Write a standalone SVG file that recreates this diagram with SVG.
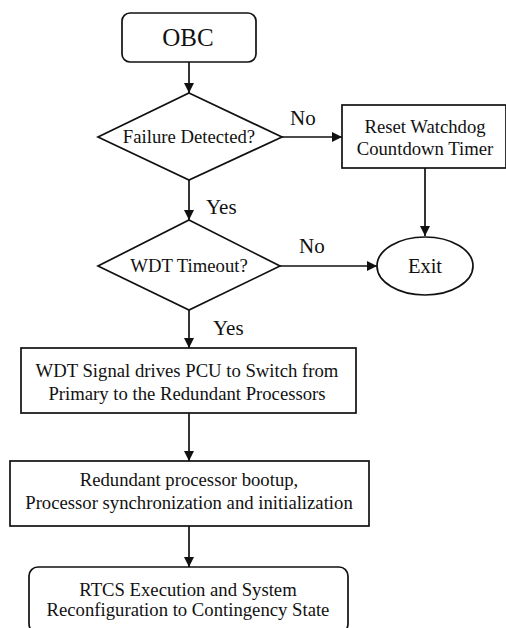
<svg xmlns="http://www.w3.org/2000/svg" width="506" height="628" viewBox="0 0 506 628">
  <style>
    .shape { fill: #fff; stroke: #111; stroke-width: 1.7; }
    .edge { fill: none; stroke: #111; stroke-width: 1.7; marker-end: url(#arrow); }
    text { font-family: "Liberation Serif", "Times New Roman", serif; fill: #111; text-anchor: middle; font-size: 18.7px; }
    .lbl { font-size: 21px; text-anchor: start; }
    .big { font-size: 25px; }
  </style>
  <defs>
    <marker id="arrow" viewBox="0 0 10 10" refX="10" refY="5" markerWidth="10" markerHeight="10" markerUnits="userSpaceOnUse" orient="auto">
      <path d="M0,0 L10,5 L0,10 Z" fill="#111"/>
    </marker>
  </defs>
  <rect width="506" height="628" fill="#fff"/>

  <g id="connectors">
    <line class="edge" x1="189" y1="62" x2="189" y2="93"/>
    <line class="edge" x1="282" y1="137" x2="342" y2="137"/>
    <line class="edge" x1="425" y1="168" x2="425" y2="236"/>
    <line class="edge" x1="189" y1="180" x2="189" y2="220"/>
    <line class="edge" x1="280" y1="266" x2="377" y2="266"/>
    <line class="edge" x1="189" y1="310" x2="189" y2="348"/>
    <line class="edge" x1="189" y1="413" x2="189" y2="461"/>
    <line class="edge" x1="189" y1="526" x2="189" y2="567"/>
    <text class="lbl" x="290" y="125">No</text>
    <text class="lbl" x="206" y="214">Yes</text>
    <text class="lbl" x="299" y="253">No</text>
    <text class="lbl" x="213" y="335">Yes</text>
  </g>

  <g id="obc">
    <rect class="shape" x="122" y="13" width="134" height="49" rx="8"/>
    <text class="big" x="188" y="46">OBC</text>
  </g>

  <g id="failure-detected">
    <polygon class="shape" points="189,93 282,137 189,180 98,137"/>
    <text x="189" y="143">Failure Detected?</text>
  </g>

  <g id="reset-watchdog">
    <rect class="shape" x="342" y="105" width="164" height="63"/>
    <text x="425" y="133">Reset Watchdog</text>
    <text x="425" y="155">Countdown Timer</text>
  </g>

  <g id="wdt-timeout">
    <polygon class="shape" points="189,220 280,266 189,310 98,266"/>
    <text x="189" y="272">WDT Timeout?</text>
  </g>

  <g id="exit">
    <ellipse class="shape" cx="425" cy="266" rx="48" ry="29"/>
    <text x="425" y="273" style="font-size:20.5px">Exit</text>
  </g>

  <g id="switch-processors">
    <rect class="shape" x="21" y="348" width="335" height="65"/>
    <text x="187" y="377">WDT Signal drives PCU to Switch from</text>
    <text x="187" y="400">Primary to the Redundant Processors</text>
  </g>

  <g id="bootup">
    <rect class="shape" x="10" y="461" width="359" height="65"/>
    <text x="189" y="486">Redundant processor bootup,</text>
    <text x="189" y="509">Processor synchronization and initialization</text>
  </g>

  <g id="rtcs">
    <rect class="shape" x="29" y="567" width="319" height="66" rx="9"/>
    <text x="188" y="596">RTCS Execution and System</text>
    <text x="188" y="616">Reconfiguration to Contingency State</text>
  </g>
</svg>
